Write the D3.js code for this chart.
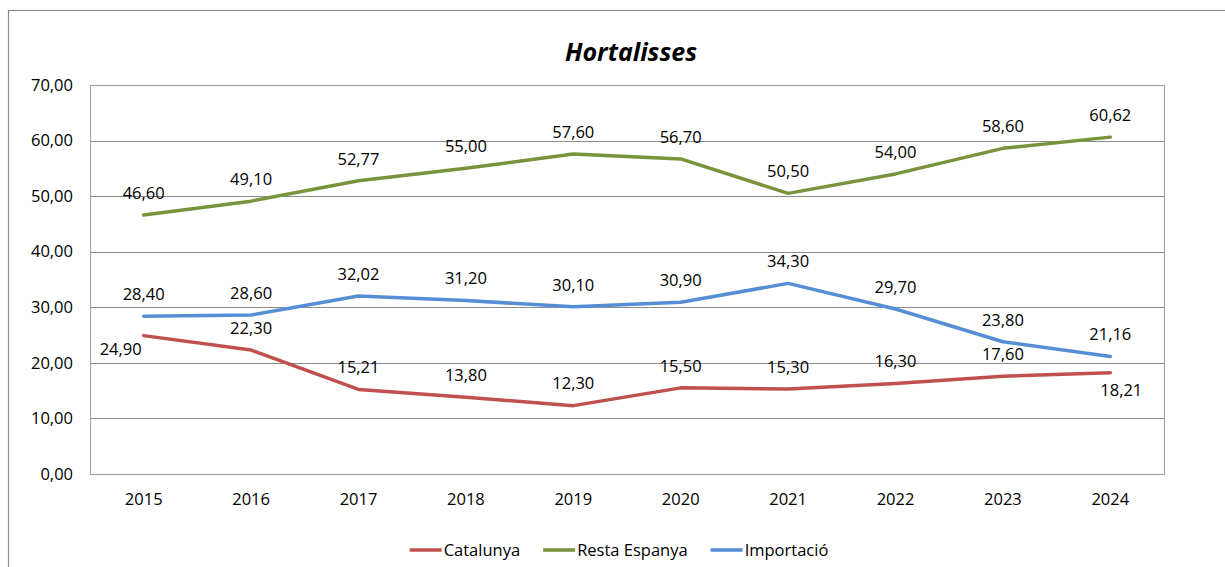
<!DOCTYPE html>
<html>
<head>
<meta charset="utf-8">
<script src="https://cdn.jsdelivr.net/npm/d3@7"></script>
<style>
  body { margin: 0; background: #fff; }
  svg { display: block; font-family: "Open Sans", sans-serif; }
</style>
</head>
<body>
<svg id="chart" width="1225" height="567"></svg>
<script>
const years = ['2015', '2016', '2017', '2018', '2019', '2020', '2021', '2022', '2023', '2024'];
const catalunya = [24.90, 22.30, 15.21, 13.80, 12.30, 15.50, 15.30, 16.30, 17.60, 18.21];
const restaEspanya = [46.60, 49.10, 52.77, 55.00, 57.60, 56.70, 50.50, 54.00, 58.60, 60.62];
const importacio = [28.40, 28.60, 32.02, 31.20, 30.10, 30.90, 34.30, 29.70, 23.80, 21.16];
const yTicks = [0, 10, 20, 30, 40, 50, 60, 70];

const series = [
	{name: 'Catalunya', values: catalunya, color: '#c0504d'},
	{name: 'Resta Espanya', values: restaEspanya, color: '#77933c'},
	{name: 'Importació', values: importacio, color: '#558ed5'}
];

// label offsets (dx, dy of text center) where the label is not right above the point
const labelShift = {
	'Catalunya': {0: [-23, 14], 9: [11, 17]}
};

const svg = d3.select('#chart');
const margin = {left: 90, right: 1164, top: 85, bottom: 474};
const fmt = (v) => d3.format('.2f')(v).replace('.', ',');

const x = d3.scaleBand()
	.domain(years)
	.range([margin.left, margin.right]);

const y = d3.scaleLinear()
	.domain([0, 70])
	.range([margin.bottom, margin.top]);

const px = (d) => x(d) + x.bandwidth() / 2;

// outer frame
svg.append('rect')
	.attr('x', 8.5)
	.attr('y', 10.5)
	.attr('width', 1240)
	.attr('height', 600)
	.style('fill', 'none')
	.style('stroke', '#8c8c8c')
	.style('stroke-width', 1.2);

// title
svg.append('text')
	.attr('x', 631)
	.attr('y', 61)
	.attr('text-anchor', 'middle')
	.style('font-size', '25px')
	.style('font-weight', 'bold')
	.style('font-style', 'italic')
	.text('Hortalisses');

// gridlines
svg.append('g')
	.selectAll('line')
	.data(yTicks)
	.enter().append('line')
	.attr('x1', margin.left)
	.attr('x2', margin.right)
	.attr('y1', (d) => Math.round(y(d)) + 0.5)
	.attr('y2', (d) => Math.round(y(d)) + 0.5)
	.style('stroke', '#8c8c8c')
	.style('stroke-width', 1);

// plot border
svg.append('rect')
	.attr('x', margin.left + 0.5)
	.attr('y', Math.round(y(70)) + 0.5)
	.attr('width', margin.right - margin.left)
	.attr('height', Math.round(y(0)) - Math.round(y(70)))
	.style('fill', 'none')
	.style('stroke', '#a6a6a6')
	.style('stroke-width', 1.2);

// y axis labels
const yAxis = svg.append('g')
	.attr('transform', 'translate(' + (margin.left - 17) + ',0)')
	.call(d3.axisLeft(y).tickValues(yTicks).tickFormat(fmt).tickSize(0).tickPadding(0));
yAxis.select('.domain').remove();
yAxis.selectAll('text')
	.style('font-size', '16.5px')
	.style('font-family', '"Open Sans", sans-serif')
	.style('fill', '#000');

// x axis labels
const xAxis = svg.append('g')
	.attr('transform', 'translate(0,' + margin.bottom + ')')
	.call(d3.axisBottom(x).tickSize(0).tickPadding(19));
xAxis.select('.domain').remove();
xAxis.selectAll('text')
	.style('font-size', '16.5px')
	.style('font-family', '"Open Sans", sans-serif')
	.style('fill', '#000');

// lines
const line = d3.line()
	.x((d, i) => px(years[i]))
	.y((d) => y(d));

svg.append('g')
	.selectAll('path')
	.data(series)
	.enter().append('path')
	.attr('d', (s) => line(s.values))
	.style('fill', 'none')
	.style('stroke', (s) => s.color)
	.style('stroke-width', 3.5)
	.style('stroke-linejoin', 'round')
	.style('stroke-linecap', 'round');

// data labels
series.forEach((s) => {
	svg.append('g')
		.selectAll('text')
		.data(s.values)
		.enter().append('text')
		.attr('x', (d, i) => {
			const sh = (labelShift[s.name] || {})[i];
			return px(years[i]) + (sh ? sh[0] : 0);
		})
		.attr('y', (d, i) => {
			const sh = (labelShift[s.name] || {})[i];
			return y(d) + (sh ? sh[1] : -22);
		})
		.attr('dy', '0.35em')
		.attr('text-anchor', 'middle')
		.style('font-size', '16.5px')
		.text(fmt);
});

// legend
const legend = svg.append('g').attr('class', 'legend');
let lx = 0;
series.forEach((s) => {
	const item = legend.append('g').attr('transform', 'translate(' + lx + ',0)');
	item.append('line')
		.attr('x1', 0)
		.attr('x2', 32)
		.attr('y1', 0)
		.attr('y2', 0)
		.style('stroke', s.color)
		.style('stroke-width', 3.5);
	const t = item.append('text')
		.attr('x', 34)
		.attr('dy', '0.35em')
		.style('font-size', '16.5px')
		.text(s.name);
	lx += 34 + t.node().getComputedTextLength() + 23;
});
const legendWidth = lx - 23;
legend.attr('transform', 'translate(' + (619 - legendWidth / 2) + ',550)');
</script>
</body>
</html>
